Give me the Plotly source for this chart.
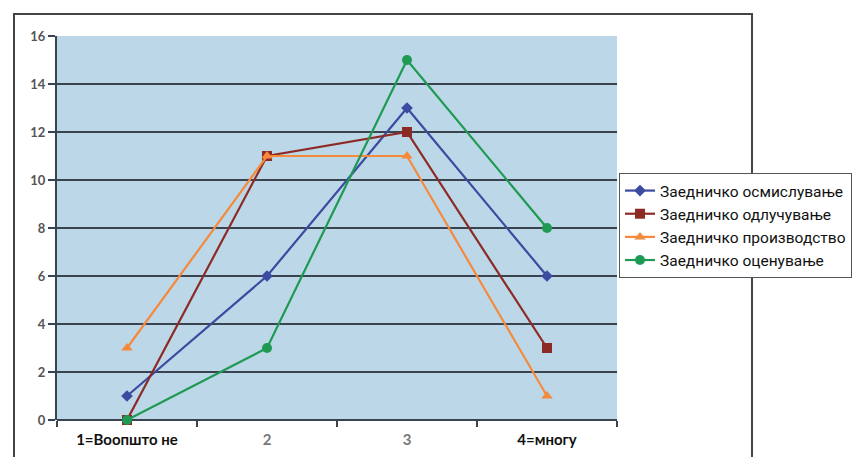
import plotly.graph_objects as go

categories = [1, 2, 3, 4]
tick_labels = ["<b>1=Воопшто не</b>",
               "<span style='color:#777777'><b>2</b></span>",
               "<span style='color:#777777'><b>3</b></span>",
               "<b>4=многу</b>"]
series_names = ["Заедничко осмислување", "Заедничко одлучување",
                "Заедничко производство", "Заедничко оценување"]
osmisluvanje = [1, 6, 13, 6]
odlucuvanje = [0, 11, 12, 3]
proizvodstvo = [3, 11, 11, 1]
ocenuvanje = [0, 3, 15, 8]
y_ticks = [0, 2, 4, 6, 8, 10, 12, 14, 16]

series = [osmisluvanje, odlucuvanje, proizvodstvo, ocenuvanje]
colors = ["#3b4ba0", "#8c2a26", "#f58a3c", "#1f9a52"]
symbols = ["diamond", "square", "triangle-up", "circle"]
sizes = [9, 10, 10, 10]

fig = go.Figure()
for name, vals, c, s, sz in zip(series_names, series, colors, symbols, sizes):
    fig.add_trace(go.Scatter(
        x=categories, y=vals, name=name, mode="lines+markers",
        line=dict(color=c, width=2.2),
        marker=dict(symbol=s, size=sz, color=c),
        cliponaxis=False,
    ))

# invisible trace on secondary axis for category labels
fig.add_trace(go.Scatter(x=categories, y=[None]*4, xaxis="x2", showlegend=False, hoverinfo="skip"))

L, R, T, B = 57, 617, 36, 420
W, H = 856, 457

fig.update_layout(
    width=W, height=H,
    margin=dict(l=L, r=W - R, t=T, b=H - B, autoexpand=False),
    paper_bgcolor="white",
    plot_bgcolor="#bcd7e8",
    showlegend=True,
    legend=dict(
        x=(619 - L) / (R - L), y=(B - 173) / (B - T), xanchor="left", yanchor="top",
        bgcolor="white", bordercolor="#555555", borderwidth=1,
        font=dict(family="Roboto", size=15.5, color="#111111"),
        tracegroupgap=0, itemwidth=30,
    ),
    xaxis=dict(
        range=[0.5, 4.5], tickvals=[0.5, 1.5, 2.5, 3.5, 4.5], ticktext=[""] * 5,
        showgrid=False, zeroline=False, showline=False,
        ticks="outside", ticklen=6, tickwidth=2, tickcolor="#3a4450",
    ),
    xaxis2=dict(
        overlaying="x", side="bottom", range=[0.5, 4.5],
        tickvals=categories, ticktext=tick_labels,
        showgrid=False, zeroline=False, showline=False, ticks="",
        tickfont=dict(family="Lato", size=15, color="#111111"),
        ticklabelstandoff=9,
    ),
    yaxis=dict(
        range=[0, 16], tickvals=y_ticks,
        showgrid=True, gridcolor="#3a4450", gridwidth=2,
        zeroline=True, zerolinecolor="#3a4450", zerolinewidth=2,
        showline=True, linecolor="#3a4450", linewidth=2,
        ticks="outside", ticklen=7, tickwidth=2, tickcolor="#3a4450",
        tickfont=dict(family="Lato", size=13, color="#555555", weight="bold"),
    ),
)

# outer chart frame
fig.add_shape(type="rect", xref="paper", yref="paper",
              x0=(14 - L) / (R - L), x1=(752 - L) / (R - L),
              y0=(B - 480) / (B - T), y1=(B - 14) / (B - T),
              line=dict(color="#444444", width=2), fillcolor="rgba(0,0,0,0)", layer="below")

fig.write_html("out.html")
